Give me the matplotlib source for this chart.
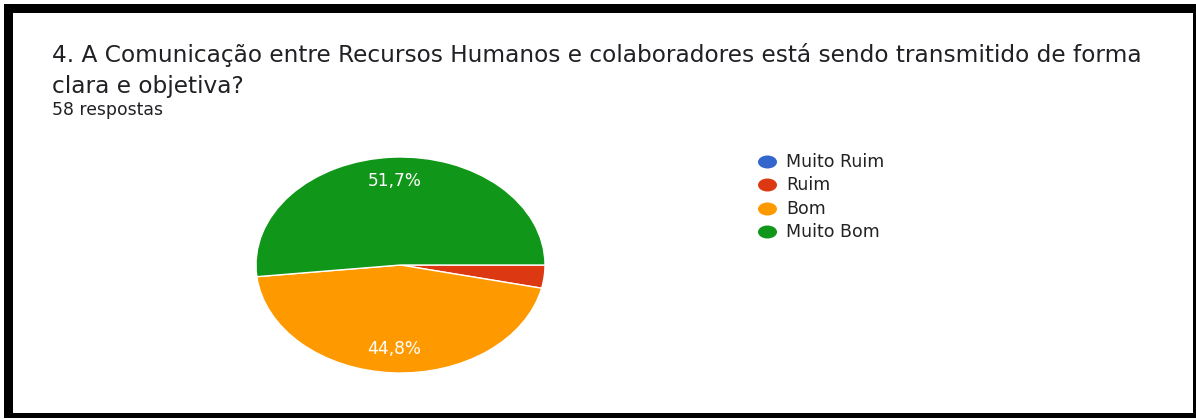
import matplotlib
matplotlib.use("Agg")
import matplotlib.pyplot as plt
from matplotlib.patches import Rectangle, Ellipse

W, H = 1196, 419
DPI = 100

categories = ["Muito Ruim", "Ruim", "Bom", "Muito Bom"]
counts = [0, 2, 26, 30]
colors = ["#3366cc", "#dc3912", "#ff9900", "#109618"]
title_lines = [
    "4. A Comunicação entre Recursos Humanos e colaboradores está sendo transmitido de forma",
    "clara e objetiva?",
]
subtitle = "58 respostas"

plt.rcParams["font.family"] = ["DejaVu Sans"]

fig = plt.figure(figsize=(W / DPI, H / DPI), dpi=DPI)
fig.patch.set_facecolor("white")
renderer = fig.canvas.get_renderer()


def fx(px):
    return px / W


def fy(py):
    return 1 - py / H


def fit_width(txt, target_px):
    """Scale a text's font size so its rendered width equals target_px."""
    for _ in range(3):
        w = txt.get_window_extent(renderer).width
        txt.set_fontsize(txt.get_fontsize() * target_px / w)
    return txt.get_fontsize()


# black frame
fig.patches.append(Rectangle((fx(4), fy(418)), fx(1192), 414 / H, transform=fig.transFigure,
                             facecolor="black", edgecolor="none", zorder=-3))
fig.patches.append(Rectangle((fx(13), fy(413)), fx(1180), 400 / H, transform=fig.transFigure,
                             facecolor="white", edgecolor="none", zorder=-2))

# title and response count
t1 = fig.text(fx(52), fy(55), title_lines[0], fontsize=15, color="#202124", va="center", ha="left")
size = fit_width(t1, 1090)
fig.text(fx(52), fy(87), title_lines[1], fontsize=size, color="#202124", va="center", ha="left")
st = fig.text(fx(52), fy(110), subtitle, fontsize=10, color="#202124", va="center", ha="left")
fit_width(st, 111)

# pie
left, right, top, bottom = 256, 545, 157, 373
ax = fig.add_axes([fx(left), fy(bottom), fx(right - left), (bottom - top) / H])


def pct_label(p):
    return f"{p:.1f}%".replace(".", ",") if p >= 5 else ""


wedges, texts, autotexts = ax.pie(
    counts, colors=colors, startangle=0, counterclock=False, radius=1,
    autopct=pct_label, pctdistance=0.78,
    wedgeprops=dict(edgecolor="white", linewidth=1.0),
    textprops=dict(color="white", fontsize=11),
)
ax.set_aspect("auto")
ax.set_xlim(-1.0, 1.0)
ax.set_ylim(-1.0, 1.0)
ax.axis("off")
for at in autotexts:
    if at.get_text():
        fit_width(at, 54)

# legend: oval swatches followed by category names
leg_x_marker, leg_x_text = 767.5, 786
leg_y = [162, 185, 209, 232]
leg_size = None
for name, c, y in zip(categories, colors, leg_y):
    fig.patches.append(Ellipse((fx(leg_x_marker), fy(y)), 19 / W, 13 / H,
                               transform=fig.transFigure, facecolor=c, edgecolor="none"))
    lt = fig.text(fx(leg_x_text), fy(y), name, fontsize=11, color="#222222", va="center", ha="left")
    if leg_size is None:
        leg_size = fit_width(lt, 98)
    else:
        lt.set_fontsize(leg_size)

fig.savefig("out.png", dpi=DPI, facecolor="white")
